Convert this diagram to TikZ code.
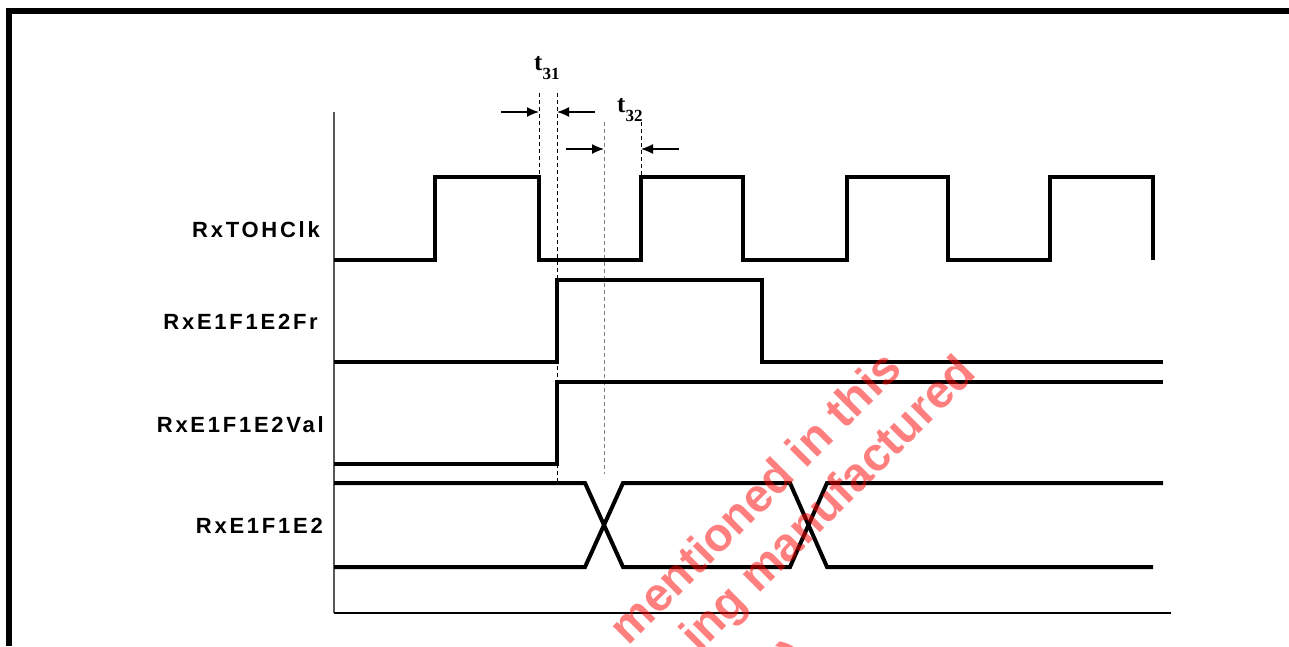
\documentclass[tikz,border=0pt]{standalone}
\usepackage{fontspec}
\usetikzlibrary{arrows.meta}
\newfontfamily\lblfont{Liberation Sans}[LetterSpace=12.5]
\newfontfamily\wmfont{Liberation Sans}
\newfontfamily\tfont{Liberation Serif}
\begin{document}
\begin{tikzpicture}[x=1pt,y=-1pt,
 sig/.style={line width=4pt, line join=miter},
 guide/.style={line width=1pt, dash pattern=on 4pt off 3pt},
 dim/.style={line width=1.3pt, -{Latex[length=12pt,width=10pt]}},
 lbl/.style={font=\lblfont\bfseries\fontsize{22}{26}\selectfont, inner sep=0pt, anchor=base east},
 tlbl/.style={font=\tfont\bfseries\fontsize{25}{28}\selectfont, inner sep=0pt, anchor=base west},
 wm/.style={font=\wmfont\bfseries\fontsize{47}{56}\selectfont, text=red, text opacity=0.5, inner sep=0pt, rotate=45, anchor=base east}]
\useasboundingbox (0,0) rectangle (1289,646);
\clip (0,0) rectangle (1289,646);
% frame
\fill (6,8) rectangle (1289,14);
\fill (6,8) rectangle (12,646);
% axes
\draw[gray!70!black, line width=1.5pt] (334,112) -- (334,613);
\draw[line width=1.3pt] (334,613) -- (1171,613);
% guides
\coordinate (g1t) at (539,93);  \coordinate (g1b) at (539,177);
\coordinate (g2t) at (557,93);  \coordinate (g2b) at (557,484);
\coordinate (g3t) at (604,122); \coordinate (g3b) at (604,474);
\coordinate (g4t) at (641,122); \coordinate (g4b) at (641,177);
\draw[guide] (g1t) -- (g1b);
\draw[guide] (g2t) -- (g2b);
\draw[guide, gray] (g3t) -- (g3b);
\draw[guide] (g4t) -- (g4b);
% signals
\draw[sig] (334,260) -- (435,260) -- (435,177) -- (539,177) -- (539,260) -- (641,260) -- (641,177) -- (743,177) -- (743,260) -- (847,260) -- (847,177) -- (948,177) -- (948,260) -- (1050,260) -- (1050,177) -- (1153,177) -- (1153,260);
\draw[sig] (334,362) -- (557,362) -- (557,280) -- (762,280) -- (762,362) -- (1163,362);
\draw[sig] (334,464) -- (557,464) -- (557,382) -- (1163,382);
\draw[sig] (334,483) -- (585,483) -- (623,567) -- (790,567) -- (827,483) -- (1163,483);
\draw[sig] (334,567) -- (585,567) -- (623,483) -- (790,483) -- (827,567) -- (1153,567);
% dimension arrows
\coordinate (a1) at (501,112); \coordinate (a1e) at (539,112);
\coordinate (a2) at (595,112); \coordinate (a2e) at (557,112);
\coordinate (a3) at (566,149); \coordinate (a3e) at (604,149);
\coordinate (a4) at (679,149); \coordinate (a4e) at (641,149);
\draw[dim] (a1) -- (a1e);
\draw[dim] (a2) -- (a2e);
\draw[dim] (a3) -- (a3e);
\draw[dim] (a4) -- (a4e);
\node[tlbl] (t31) at (534,70) {t\raisebox{-9pt}{\fontsize{17}{17}\selectfont 31}};
\node[tlbl] (t32) at (617,112) {t\raisebox{-9pt}{\fontsize{17}{17}\selectfont 32}};
% signal names
\node[lbl] (clk) at (320,237) {RxTOHClk};
\node[lbl] (fr) at (318,329) {RxE1F1E2Fr};
\node[lbl] (val) at (324,432) {RxE1F1E2Val};
\node[lbl] (dat) at (323,533) {RxE1F1E2};
% watermark
\node[wm] (wm1) at (904,371) {mentioned in this};
\node[wm] (wm2) at (978,375) {ing manufactured};
\node[wm] (wm3) at (811,659) {e)};
\end{tikzpicture}
\end{document}
